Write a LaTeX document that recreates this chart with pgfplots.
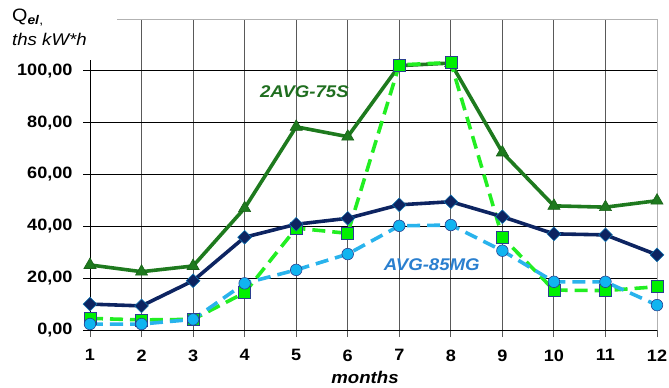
\documentclass[border=0pt]{standalone}
\usepackage{fontspec}
\setmainfont[FakeStretch=1.1]{Liberation Sans}
\usepackage{pgfplots}
\pgfplotsset{compat=1.18}
\definecolor{dkgreen}{HTML}{1E7A1E}
\definecolor{navy}{HTML}{0D2461}
\definecolor{lgreen}{HTML}{22EE22}
\definecolor{sqfill}{HTML}{00F000}
\definecolor{lblue}{HTML}{29B3EC}
\definecolor{cfill}{HTML}{10B4F0}
\definecolor{mkedge}{HTML}{2A3F8F}
\definecolor{lblblue}{HTML}{2A7FCF}
\definecolor{lbgreen}{HTML}{1F6E1F}
\begin{document}
\begin{tikzpicture}[x=1bp,y=1bp]
\begin{axis}[
  at={(0,0)}, anchor=south west,
  scale only axis, width=567bp, height=311bp,
  xmin=1, xmax=12, ymin=0, ymax=120,
  axis x line*=bottom, axis y line*=left,
  axis line style={black, line width=1pt},
  xtick={1,...,12},
  ytick={0,20,40,60,80,100},
  yticklabels={{0,00},{20,00},{40,00},{60,00},{80,00},{100,00}},
  /pgf/number format/assume math mode=true,
  tick align=outside, major tick length=7bp,
  x tick style={black!65, line width=0.9pt},
  y tick style={black, line width=0.9pt},
  xmajorgrids, ymajorgrids,
  x grid style={black!65, line width=0.9pt},
  y grid style={black, line width=0.9pt},
  ticklabel style={font=\fontsize{16.5}{19}\bfseries\selectfont},
  yticklabel style={xshift=-7bp},
  xticklabel style={yshift=-9bp},
  clip=false,
]
\draw[black!30, line width=0.9pt] (axis cs:1,120) -- (axis cs:12,120) -- (axis cs:12,0);
\addplot[dkgreen, line width=3.6pt, mark=triangle*, mark size=7bp,
  mark options={solid, fill=dkgreen, draw=dkgreen!80!black, line width=0.6pt}]
  coordinates {(1,25.1) (2,22.5) (3,24.7) (4,47.0) (5,78.4) (6,74.6) (7,102.0) (8,103.0) (9,68.5) (10,47.9) (11,47.4) (12,49.9)};
\addplot[lgreen, line width=3.6pt, dash pattern=on 13bp off 7bp, mark=square*, mark size=6bp,
  mark options={solid, fill=sqfill, draw=mkedge, line width=0.6pt}]
  coordinates {(1,4.5) (2,3.9) (3,4.1) (4,14.4) (5,39.3) (6,37.3) (7,102.3) (8,103.2) (9,35.8) (10,15.4) (11,15.2) (12,16.7)};
\addplot[navy, line width=3.6pt, mark=square*, mark size=4.9bp,
  mark options={solid, rotate=45, fill=navy, draw=cfill!60!navy, line width=0.5pt}]
  coordinates {(1,10.0) (2,9.3) (3,19.0) (4,35.8) (5,40.8) (6,43.1) (7,48.3) (8,49.5) (9,43.7) (10,37.1) (11,36.7) (12,29.0)};
\addplot[lblue, line width=3.6pt, dash pattern=on 13bp off 7bp, mark=*, mark size=5.8bp,
  mark options={solid, fill=cfill, draw=mkedge, line width=0.6pt}]
  coordinates {(1,2.3) (2,2.3) (3,4.1) (4,18.0) (5,23.2) (6,29.3) (7,40.2) (8,40.5) (9,30.6) (10,18.6) (11,18.6) (12,9.6)};
\node[text=lbgreen, font=\fontsize{17}{20}\bfseries\itshape\selectfont] at (axis cs:5.16,91.9) {2AVG-75S};
\node[text=lblblue, font=\fontsize{17}{20}\bfseries\itshape\selectfont] at (axis cs:7.63,25.1) {AVG-85MG};
\end{axis}
\fill[white] (-90,270) rectangle (27,330);
\node[anchor=base west, inner sep=0, font=\fontsize{18}{21}\selectfont] at (-78,309) {Q\textsubscript{\textbf{\textit{el}},}};
\node[anchor=base west, inner sep=0, font=\fontsize{17}{20}\itshape\selectfont] at (-78,285) {ths kW*h};
\node[font=\fontsize{17}{20}\bfseries\itshape\selectfont] at (275,-47) {months};
\pgfresetboundingbox
\useasboundingbox (-90,-57) rectangle (579,330);
\end{tikzpicture}
\end{document}
